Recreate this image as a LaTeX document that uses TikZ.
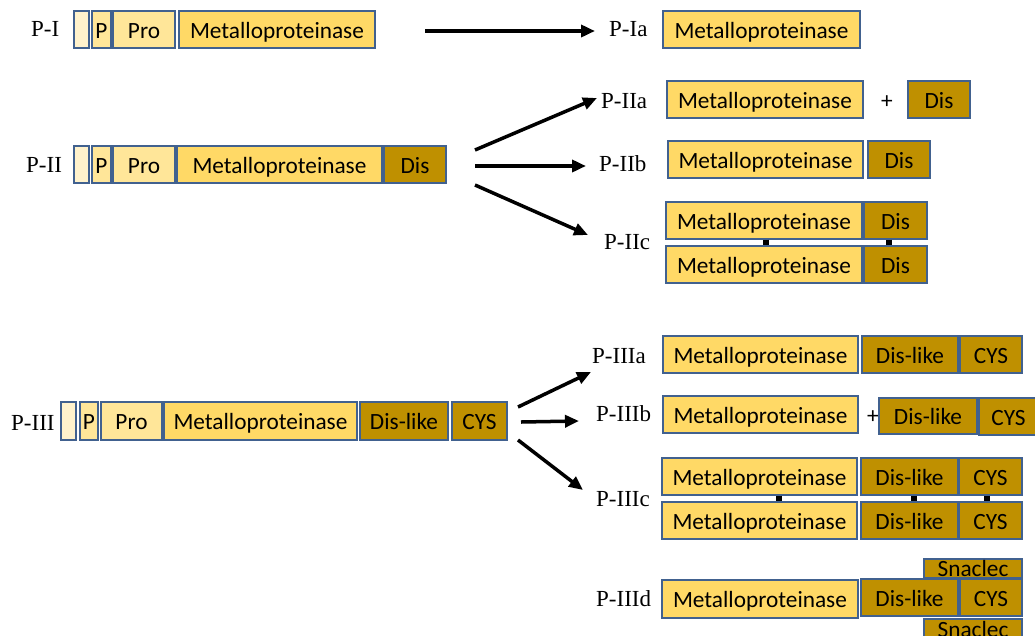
\documentclass[tikz,border=0pt]{standalone}
\usepackage{fontspec}
\setmainfont{Liberation Serif}
\newfontfamily\boxfont{Carlito}
\usetikzlibrary{arrows.meta}
\definecolor{bord}{HTML}{41618F}
\definecolor{cA}{HTML}{FFF2CC}
\definecolor{cB}{HTML}{FFE699}
\definecolor{cC}{HTML}{FFD966}
\definecolor{cD}{HTML}{BF9000}
\tikzset{
  dom/.style={draw=bord, line width=1.2pt, inner sep=0pt,
    font=\boxfont\fontsize{23.3}{25}\selectfont, text height=21pt, text depth=4pt},
  snac/.style={dom, text height=15pt, text depth=0pt},
  lab/.style={anchor=base west, inner sep=0pt, font=\fontsize{23}{25}\selectfont},
  plus/.style={inner sep=0pt, font=\boxfont\fontsize{23.3}{25}\selectfont},
  arr/.style={line width=3.5pt, -{Triangle[length=14pt,width=12pt]}},
  bond/.style={line width=6pt},
}
\newcommand\dombox[8][dom]{%
  \node[#1, fill=#7, minimum width={#5pt-#3pt}, minimum height={#6pt-#4pt}]
    (#2) at ({(#3+#5)/2},{(#4+#6)/2}) {#8};}
\begin{document}
\begin{tikzpicture}[x=1pt,y=-1pt]
\useasboundingbox (0,0) rectangle (1035,635);
% ---- P-I
\node[lab] (lI) at (31,36) {P-I};
\dombox{iA}{74}{11}{89}{48}{cA}{}
\dombox{iB}{92}{11}{111}{48}{cB}{P}
\dombox{iC}{113}{11}{175}{48}{cB}{Pro}
\dombox{iD}{179}{11}{375}{48}{cC}{Metalloproteinase}
\node[lab] (lIa) at (609,36) {P-Ia};
\dombox{iaM}{663}{11}{860}{48}{cC}{Metalloproteinase}
\coordinate (a1s) at (425,31); \coordinate (a1e) at (595,31);
\draw[arr] (a1s) -- (a1e);
% ---- P-II
\node[lab] (lII) at (26,172) {P-II};
\dombox{iiA}{74}{146}{89}{183}{cA}{}
\dombox{iiB}{92}{146}{111}{183}{cB}{P}
\dombox{iiC}{113}{146}{175}{183}{cB}{Pro}
\dombox{iiD}{177}{146}{382}{183}{cC}{Metalloproteinase}
\dombox{iiE}{384}{146}{446}{183}{cD}{Dis}
\coordinate (a2s) at (475,150); \coordinate (a2e) at (597,98);
\coordinate (a3s) at (475,166); \coordinate (a3e) at (586,166);
\coordinate (a4s) at (475,185); \coordinate (a4e) at (588,235);
\draw[arr] (a2s) -- (a2e);
\draw[arr] (a3s) -- (a3e);
\draw[arr] (a4s) -- (a4e);
% P-IIa
\node[lab] (lIIa) at (601,108) {P-IIa};
\dombox{iiaM}{667}{81}{863}{118}{cC}{Metalloproteinase}
\node[plus] (iiaP) at (887,102) {+};
\dombox{iiaD}{908}{81}{970}{118}{cD}{Dis}
% P-IIb
\node[lab] (lIIb) at (599,171) {P-IIb};
\dombox{iibM}{668}{141}{863}{178}{cC}{Metalloproteinase}
\dombox{iibD}{868}{141}{930}{178}{cD}{Dis}
% P-IIc
\node[lab] (lIIc) at (604,249) {P-IIc};
\dombox{iicM1}{666}{202}{862}{239}{cC}{Metalloproteinase}
\dombox{iicD1}{864}{202}{927}{239}{cD}{Dis}
\dombox{iicM2}{666}{246}{862}{283}{cC}{Metalloproteinase}
\dombox{iicD2}{864}{246}{927}{283}{cD}{Dis}
\draw[bond] ([xshift=2pt]iicM1.south) -- ([xshift=2pt]iicM2.north);
\draw[bond] ([xshift=-7pt]iicD1.south) -- ([xshift=-7pt]iicD2.north);
% ---- P-III
\node[lab] (lIII) at (11,430) {P-III};
\dombox{iiiA}{61}{402}{76}{440}{cA}{}
\dombox{iiiB}{80}{402}{98}{440}{cB}{P}
\dombox{iiiC}{101}{402}{162}{440}{cB}{Pro}
\dombox{iiiD}{164}{402}{357}{440}{cC}{Metalloproteinase}
\dombox{iiiE}{360}{402}{448}{440}{cD}{Dis-like}
\dombox{iiiF}{452}{402}{507}{440}{cD}{CYS}
\coordinate (a5s) at (518,407); \coordinate (a5e) at (591,372);
\coordinate (a6s) at (521,422); \coordinate (a6e) at (579,421);
\coordinate (a7s) at (518,440); \coordinate (a7e) at (583,490);
\draw[arr] (a5s) -- (a5e);
\draw[arr] (a6s) -- (a6e);
\draw[arr] (a7s) -- (a7e);
% P-IIIa
\node[lab] (lIIIa) at (592,363) {P-IIIa};
\dombox{iiiaM}{663}{336}{858}{373}{cC}{Metalloproteinase}
\dombox{iiiaD}{862}{336}{958}{373}{cD}{Dis-like}
\dombox{iiiaC}{960}{336}{1022}{373}{cD}{CYS}
% P-IIIb
\node[lab] (lIIIb) at (596,421) {P-IIIb};
\dombox{iiibM}{663}{396}{858}{433}{cC}{Metalloproteinase}
\node[plus] (iiibP) at (873,417) {+};
\dombox{iiibD}{879}{398}{977}{434}{cD}{Dis-like}
\dombox{iiibC}{979}{398}{1038}{435}{cD}{CYS}
% P-IIIc
\node[lab] (lIIIc) at (596,506) {P-IIIc};
\dombox{iiicM1}{662}{458}{857}{495}{cC}{Metalloproteinase}
\dombox{iiicD1}{861}{458}{958}{495}{cD}{Dis-like}
\dombox{iiicC1}{959}{458}{1022}{495}{cD}{CYS}
\dombox{iiicM2}{662}{502}{857}{539}{cC}{Metalloproteinase}
\dombox{iiicD2}{861}{502}{958}{539}{cD}{Dis-like}
\dombox{iiicC2}{959}{502}{1022}{539}{cD}{CYS}
\draw[bond] ([xshift=19.5pt]iiicM1.south) -- ([xshift=19.5pt]iiicM2.north);
\draw[bond] ([xshift=4.5pt]iiicD1.south) -- ([xshift=4.5pt]iiicD2.north);
\draw[bond] ([xshift=-3.5pt]iiicC1.south) -- ([xshift=-3.5pt]iiicC2.north);
% P-IIId
\node[lab] (lIIId) at (596,606) {P-IIId};
\dombox[snac]{iiidS1}{924}{559}{1022}{578}{cD}{Snaclec}
\dombox{iiidM}{662}{580}{858}{618}{cC}{Metalloproteinase}
\dombox{iiidD}{861}{579}{958}{616}{cD}{Dis-like}
\dombox{iiidC}{960}{579}{1022}{616}{cD}{CYS}
\dombox[snac]{iiidS2}{924}{619}{1022}{640}{cD}{Snaclec}
\end{tikzpicture}
\end{document}
